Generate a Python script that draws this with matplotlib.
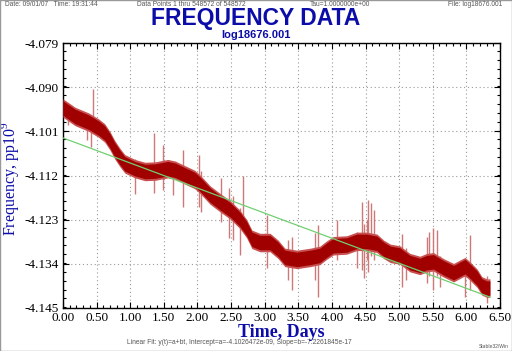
import matplotlib.pyplot as plt
import numpy as np
from matplotlib.patches import Rectangle
from matplotlib.ticker import MultipleLocator, FixedLocator, FormatStrFormatter

# centre of the noisy frequency band (days, pp10^9)
t_band = [0.00, 0.18, 0.38, 0.53, 0.62, 0.70, 0.77, 0.85, 0.92, 1.07,
          1.22, 1.37, 1.56, 1.67, 1.82, 1.96, 2.04, 2.19, 2.34, 2.49,
          2.63, 2.73, 2.81, 2.93, 3.08, 3.20, 3.30, 3.48, 3.68, 3.82,
          3.92, 4.02, 4.22, 4.37, 4.52, 4.67, 4.77, 4.87, 5.01, 5.16,
          5.31, 5.41, 5.51, 5.66, 5.81, 5.91, 5.98, 6.06, 6.16, 6.23,
          6.31, 6.35]
f_band = [-4.0952, -4.0973, -4.0987, -4.1002, -4.1014, -4.1034, -4.1056, -4.1076, -4.1091, -4.1103,
          -4.1110, -4.1109, -4.1103, -4.1107, -4.1119, -4.1130, -4.1142, -4.1169, -4.1188, -4.1206,
          -4.1229, -4.1252, -4.1279, -4.1287, -4.1287, -4.1304, -4.1324, -4.1329, -4.1324, -4.1319,
          -4.1306, -4.1295, -4.1293, -4.1284, -4.1284, -4.1289, -4.1304, -4.1314, -4.1318, -4.1337,
          -4.1344, -4.1337, -4.1335, -4.1350, -4.1362, -4.1353, -4.1347, -4.1359, -4.1376, -4.1395,
          -4.1401, -4.1400]
band_halfwidth = 0.0018
fuzz_halfwidth = 0.0023

# outlier spikes: time, low, high
spike_t = [0.07, 0.35, 0.42, 0.44, 1.07, 1.36, 1.49, 1.64, 1.78, 2.03,
           2.06, 2.35, 2.47, 2.53, 2.63, 2.67, 3.03, 3.35, 3.40, 3.75,
           3.80, 4.08, 4.37, 4.45, 4.47, 4.52, 4.54, 4.58, 4.62, 5.04,
           5.10, 5.41, 5.45, 5.51, 5.57, 5.61, 5.98, 6.05, 6.31]
spike_lo = [-4.0994, -4.1032, -4.1048, -4.0990, -4.1165, -4.1164, -4.1156, -4.1169, -4.1198, -4.1198,
            -4.1210, -4.1235, -4.1276, -4.1280, -4.1318, -4.1256, -4.1350, -4.1380, -4.1405, -4.1380,
            -4.1422, -4.1330, -4.1350, -4.1355, -4.1375, -4.1330, -4.1360, -4.1320, -4.1330, -4.1397,
            -4.1380, -4.1388, -4.1370, -4.1405, -4.1370, -4.1397, -4.1422, -4.1405, -4.1437]
spike_hi = [-4.0950, -4.0970, -4.0980, -4.0904, -4.1080, -4.1014, -4.1045, -4.1090, -4.1056, -4.1069,
            -4.1110, -4.1126, -4.1151, -4.1170, -4.1200, -4.1120, -4.1218, -4.1280, -4.1272, -4.1263,
            -4.1243, -4.1231, -4.1260, -4.1185, -4.1240, -4.1231, -4.1181, -4.1189, -4.1205, -4.1265,
            -4.1300, -4.1272, -4.1260, -4.1251, -4.1256, -4.1320, -4.1330, -4.1267, -4.1370]

# linear fit from the footer
fit_a = -4.1026472e-09
fit_b = -7.2261845e-17
t_end = 548572 / 86400.0

y_ticks = [-4.079, -4.090, -4.101, -4.112, -4.123, -4.134, -4.145]

title_blue = '#0c0ca8'
serif = ['Liberation Serif', 'DejaVu Serif']
sans = ['Liberation Sans', 'DejaVu Sans']
plt.rcParams['mathtext.fontset'] = 'custom'
plt.rcParams['mathtext.rm'] = 'Liberation Serif'

fig = plt.figure(figsize=(5.12, 3.51), dpi=100)
ax = fig.add_axes([63 / 512, 1 - 308 / 351, 437 / 512, 265 / 351])

# band + spikes
tb = np.array(t_band)
fb = np.array(f_band)
ax.vlines(spike_t, spike_lo, spike_hi, color='#d07878', lw=1.0, zorder=2)
ax.fill_between(tb, fb - fuzz_halfwidth, fb + fuzz_halfwidth, color='#c85050', lw=0, zorder=3)
ax.fill_between(tb, fb - band_halfwidth, fb + band_halfwidth, color='#a00000', lw=0, zorder=3)

# fit line
tf = np.array([0.0, t_end])
ax.plot(tf, (fit_a + fit_b * tf * 86400) * 1e9, color='#70d070', lw=0.9, zorder=4)

ax.set_xlim(0, 6.5)
ax.set_ylim(-4.145, -4.079)
ax.xaxis.set_major_locator(MultipleLocator(0.5))
ax.xaxis.set_minor_locator(MultipleLocator(0.1))
ax.yaxis.set_major_locator(FixedLocator(y_ticks))
ax.yaxis.set_minor_locator(MultipleLocator(0.0022))
ax.xaxis.set_major_formatter(FormatStrFormatter('%.2f'))
ax.yaxis.set_major_formatter(FormatStrFormatter('%.3f'))
ax.tick_params(which='both', direction='in', top=True, right=True, width=0.8)
ax.tick_params(which='major', length=4, pad=3)
ax.tick_params(which='minor', length=2)
for lab in ax.get_xticklabels() + ax.get_yticklabels():
    lab.set_family(serif)
    lab.set_fontsize(9.5)
ax.grid(True, which='major', color='#999999', ls=(0, (1, 2.5)), lw=0.8)
ax.set_axisbelow(True)
for sp in ax.spines.values():
    sp.set_linewidth(1.0)

ax.set_xlabel('Time, Days', family=serif, fontsize=13, fontweight='bold', color=title_blue, labelpad=0)
ax.set_ylabel('Frequency, pp10$^{\\mathrm{9}}$', family=serif, fontsize=11.5, color=title_blue)
ax.yaxis.set_label_coords(-42 / 437, 0.49)

# titles and header
fig.text(0.5, 1 - 18.5 / 351, 'FREQUENCY DATA', ha='center', va='center', family=sans,
         fontsize=16.5, fontweight='bold', color=title_blue)
fig.text(0.5, 1 - 34.5 / 351, 'log18676.001', ha='center', va='center', family=sans,
         fontsize=8.0, fontweight='bold', color=title_blue)
hdr = dict(fontsize=4.8, color='#555555', va='center', family=sans)
fig.text(5 / 512, 1 - 4.5 / 351, 'Date: 09/01/07   Time: 19:31:44', ha='left', **hdr)
fig.text(137 / 512, 1 - 4.5 / 351, 'Data Points 1 thru 548572 of 548572', ha='left', **hdr)
fig.text(310 / 512, 1 - 4.5 / 351, 'Tau=1.0000000e+00', ha='left', **hdr)
fig.text(502 / 512, 1 - 4.5 / 351, 'File: log18676.001', ha='right', **hdr)
fig.text(127 / 512, 1 - 343 / 351,
         'Linear Fit: y(t)=a+bt, Intercept=a=-4.1026472e-09, Slope=b=-7.2261845e-17',
         ha='left', **hdr)
fig.text(509 / 512, 1 - 347 / 351, 'Stable32/Win', ha='right', va='center', family=sans,
         fontsize=3.6, color='#555555')

fig.patches.append(Rectangle((0, 0), 1, 1, transform=fig.transFigure, fill=False,
                             edgecolor='#999999', lw=1.0))

fig.savefig('out.png', dpi=100)
